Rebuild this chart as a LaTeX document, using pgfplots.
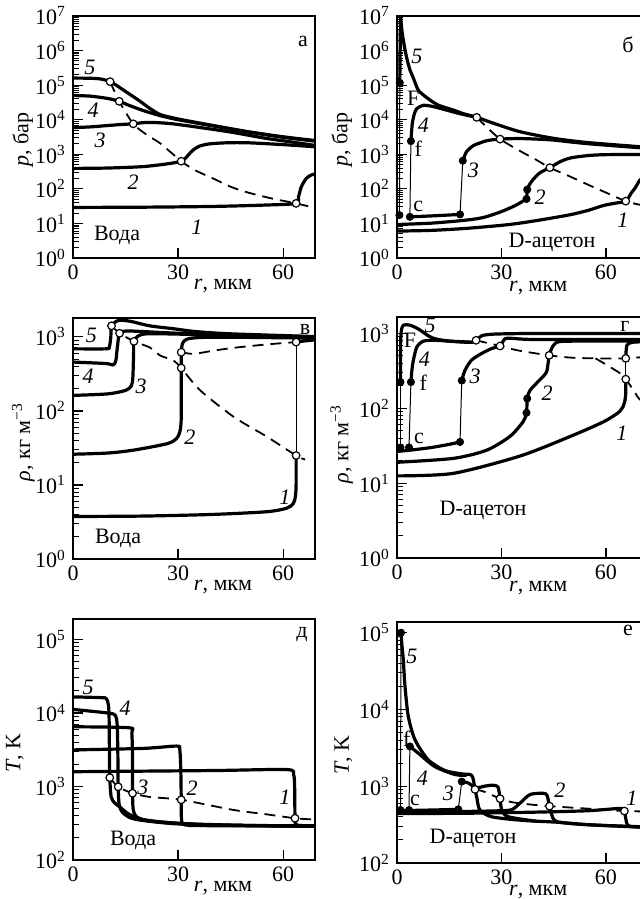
\documentclass[border=0pt]{standalone}
\usepackage{fontspec}
\setmainfont{Liberation Serif}
\usepackage{pgfplots}
\pgfplotsset{compat=1.18}
\newcommand\lf{\fontsize{11}{13}\selectfont}
\newcommand\lab[3]{\node[font=\lf,inner sep=0pt] at (axis description cs:#1,#2) {#3};}
\pgfplotsset{
 mypanel/.style={
  scale only axis, xmin=0,
  axis line style={line width=0.7pt, black},
  xtick={0,30,60}, xticklabels={0,30,60},
  tick pos=left, tick align=inside,
  major tick length=5pt, minor tick length=3.2pt,
  tick style={line width=0.6pt, black},
  minor tick style={line width=0.5pt},
  tick label style={font=\lf},
  label style={font=\lf},
  xlabel={\textit{r}, мкм},
 },
 xlpos/.style 2 args={xlabel style={at={(axis description cs:#1,#2)}, anchor=center}},
 ylpos/.style 2 args={ylabel style={at={(axis description cs:#1,#2)}, anchor=center}},
 decA/.style={ytick={1,10,100,1000,10000,100000,1000000,10000000},
  yticklabels={10\textsuperscript{0},10\textsuperscript{1},10\textsuperscript{2},10\textsuperscript{3},10\textsuperscript{4},10\textsuperscript{5},10\textsuperscript{6},10\textsuperscript{7}},
  minor ytick={2,3,4,5,6,7,8,9,20,30,40,50,60,70,80,90,200,300,400,500,600,700,800,900,2000,3000,4000,5000,6000,7000,8000,9000,20000,30000,40000,50000,60000,70000,80000,90000,200000,300000,400000,500000,600000,700000,800000,900000,2000000,3000000,4000000,5000000,6000000,7000000,8000000,9000000}},
 decB/.style={ytick={1,10,100,1000},
  yticklabels={10\textsuperscript{0},10\textsuperscript{1},10\textsuperscript{2},10\textsuperscript{3}},
  minor ytick={2,3,4,5,6,7,8,9,20,30,40,50,60,70,80,90,200,300,400,500,600,700,800,900}},
 decC/.style={ytick={100,1000,10000,100000},
  yticklabels={10\textsuperscript{2},10\textsuperscript{3},10\textsuperscript{4},10\textsuperscript{5}},
  minor ytick={200,300,400,500,600,700,800,900,2000,3000,4000,5000,6000,7000,8000,9000,20000,30000,40000,50000,60000,70000,80000,90000}},
 thk/.style={black, line width=1.6pt, line join=round, smooth, tension=0.45, mark=none},
 thn/.style={black, line width=0.5pt, mark=none},
 dsh/.style={black, line width=0.9pt, dash pattern=on 5.5pt off 3.5pt, smooth, tension=0.45, mark=none},
 opc/.style={only marks, mark=*, mark size=1.9pt, mark options={fill=white, draw=black, line width=0.6pt, solid}},
 fdc/.style={only marks, mark=*, mark size=1.8pt, mark options={fill=black, draw=black, solid}},
}
\begin{document}
\begin{tikzpicture}
\useasboundingbox (0,0) rectangle (319.5pt,449.5pt);

% ---------------- panel a
\begin{axis}[ymode=log, mypanel, decA, at={(36.5pt,320.5pt)}, anchor=south west,
  width=121pt, height=121pt, xmax=69.1, ymin=1, ymax=1e7,
  ylabel={\textit{p}, бар}, ylpos={-0.207}{0.488}, xlpos={0.62}{-0.117}]
\addplot[dsh] coordinates {(10.6,1.26e5)(13.2,3.4e4)(17.2,7600)(21,3700)(25.1,2000)(30.9,630)(35,340)(40,200)(45,115)(50,78)(57,52)(63.7,38)(69.1,28)};
\addplot[thk] coordinates {(0,1.6e5)(5,1.58e5)(8,1.5e5)(10.6,1.26e5)(13,9e4)(16,5.6e4)(19,3.5e4)(22,2.1e4)(25,1.4e4)(30,1.05e4)(40,6800)(50,4500)(60,3200)(69.1,2500)};
\addplot[thk] coordinates {(0,5e4)(5,4.8e4)(10,4.1e4)(13.2,3.4e4)(16,2.6e4)(20,1.85e4)(25,1.3e4)(30,1e4)(40,6600)(50,4400)(60,3100)(69.1,2400)};
\addplot[thk] coordinates {(0,5900)(5,6200)(10,6800)(14,7300)(17.2,7600)(20,8200)(23,8300)(28,7700)(35,6200)(45,4400)(55,2900)(62,2300)(69.1,1800)};
\addplot[thk] coordinates {(0,390)(10,400)(20,440)(27,530)(30.9,630)(32.5,850)(34,1250)(36,1700)(39,2000)(44,2150)(50,2150)(60,1900)(69.1,1650)};
\addplot[thk] coordinates {(0,29)(20,29.5)(40,31)(55,34)(63.7,38)(64.4,59)(65.2,115)(66.6,200)(68,250)(69.1,270)};
\addplot[opc] coordinates {(10.6,1.26e5)(13.2,3.4e4)(17.2,7600)(30.9,630)(63.7,38)};
\lab{0.070}{0.789}{\textit{5}}
\lab{0.083}{0.612}{\textit{4}}
\lab{0.112}{0.488}{\textit{3}}
\lab{0.248}{0.314}{\textit{2}}
\lab{0.512}{0.128}{\textit{1}}
\lab{0.182}{0.095}{Вода}
\lab{0.950}{0.893}{а}
\end{axis}

% ---------------- panel b
\begin{axis}[ymode=log, mypanel, decA, at={(198.5pt,320.5pt)}, anchor=south west,
  width=125pt, height=121pt, xmax=71.8, ymin=1, ymax=1e7,
  ylabel={\textit{p}, бар}, ylpos={-0.221}{0.488}, xlpos={0.565}{-0.125}]
\addplot[dsh] coordinates {(22.9,1.17e4)(26,5800)(29.6,2750)(35,1300)(40,690)(43.9,410)(50,220)(55,130)(60,78)(65.7,44)(69.5,35)(71.8,32)};
\addplot[thn] coordinates {(0.7,17.4)(0.8,1.17e5)};
\addplot[thk] coordinates {(0.8,1.17e5)(0.9,1e6)(1.0,1e7)};
\addplot[thk] coordinates {(1.0,1e7)(1.5,3.2e6)(2.3,1.05e6)(3.0,5e5)(3.7,2.8e5)(4.7,1.6e5)(6.1,7.2e4)(8,4.8e4)(9.5,3.7e4)(12,2.6e4)(16.2,1.9e4)(19,1.5e4)(22.9,1.17e4)(27.7,7900)(35.3,4500)(44.9,2900)(54.4,2200)(69.5,1660)(71.8,1600)};
\addplot[thn] coordinates {(3.7,15.5)(4.0,2400)};
\addplot[thk] coordinates {(4.0,2400)(4.4,7900)(5.0,1.5e4)(5.7,2.1e4)(7.5,2.6e4)(10,2.45e4)(13.8,1.95e4)(18,1.5e4)(22.9,1.17e4)};
\addplot[thk] coordinates {(3.7,15.5)(10,16.5)(18.1,18.2)};
\addplot[thn] coordinates {(18.1,18.2)(18.9,650)};
\addplot[thk] coordinates {(18.9,650)(20,1200)(22,1800)(23.9,2140)(26,2500)(29.6,2750)(35,2850)(40,2750)(45,2570)(54.4,2040)(69.5,1550)(71.8,1500)};
\addplot[thk] coordinates {(0,9.3)(10,10.2)(20,12.5)(25,15)(30,22)(34,33)(36.3,45)(37.2,51)(37.4,95)(38.2,140)(39.1,186)(41,290)(43.9,410)(47,620)(50,790)(55,920)(60,975)(71.8,990)};
\addplot[thk] coordinates {(0,6)(10,6.3)(20,7.2)(30,8.8)(35.3,10.2)(42,13)(49.7,17.8)(55,24)(59.3,33)(63,39)(65.7,44)(67.3,76)(68.5,110)(69.5,165)(71,240)(71.8,280)};
\addplot[opc] coordinates {(22.9,1.17e4)(29.6,2750)(43.9,410)(65.7,44)};
\addplot[fdc] coordinates {(0.7,17.4)(0.8,1.17e5)(3.7,15.5)(4.0,2400)(18.1,18.2)(18.9,650)(37.2,51)(37.4,95)};
\lab{0.079}{0.832}{\textit{5}}
\lab{0.065}{0.660}{F}
\lab{0.105}{0.550}{\textit{4}}
\lab{0.085}{0.453}{f}
\lab{0.085}{0.212}{c}
\lab{0.305}{0.364}{\textit{3}}
\lab{0.572}{0.252}{\textit{2}}
\lab{0.904}{0.157}{\textit{1}}
\lab{0.620}{0.066}{D-ацетон}
\lab{0.924}{0.880}{б}
\end{axis}

% ---------------- panel v
\begin{axis}[ymode=log, mypanel, decB, at={(36.5pt,170pt)}, anchor=south west,
  width=121pt, height=120.5pt, xmax=69.1, ymin=1, ymax=1800,
  ylabel={\textit{ρ}, кг м\textsuperscript{−3}}, ylpos={-0.205}{0.485}, xlpos={0.62}{-0.117}]
\addplot[dsh] coordinates {(11,1410)(13.3,1120)(17.4,870)(21.9,720)(24.9,560)(28.7,480)(30.9,380)(36.3,190)(45.9,83)(55.3,45)(63.7,25)(66.3,22)};
\addplot[dsh] coordinates {(30.9,620)(34.4,590)(40,650)(45.7,710)(55.2,790)(63.7,850)};
\addplot[thk] coordinates {(0,3.75)(20,3.8)(40,4.0)(55.3,4.35)(61,4.85)(62.9,5.6)(63.5,7)(63.7,10)(63.7,25)};
\addplot[thn] coordinates {(63.7,25)(63.7,850)};
\addplot[thk] coordinates {(63.7,850)(66,880)(69.1,910)};
\addplot[thk] coordinates {(0,26)(10,27)(17.2,29.5)(26.8,36)(29.5,42)(30.5,52)(30.9,80)(30.9,380)(30.9,620)(31.3,820)(32.5,930)(36,980)(45,990)(69.1,960)};
\addplot[thk] coordinates {(0,162)(10,170)(15.1,190)(16.7,220)(17.1,290)(17.3,600)(17.4,870)(18.5,1020)(21,1100)(30,1090)(45,1040)(69.1,980)};
\addplot[thk] coordinates {(0,457)(9.5,436)(11.4,417)(12.2,470)(12.7,750)(13.3,1120)(15.2,1200)(20,1180)(30,1120)(50,1050)(69.1,1000)};
\addplot[thk] coordinates {(0,690)(9.5,690)(10.4,740)(10.8,1000)(11,1410)(12.9,1660)(16.2,1630)(21.9,1410)(28.6,1290)(35,1180)(45,1100)(69.1,1010)};
\addplot[opc] coordinates {(11,1410)(13.3,1120)(17.4,870)(30.9,620)(30.9,380)(63.7,850)(63.7,25)};
\lab{0.076}{0.929}{\textit{5}}
\lab{0.062}{0.757}{\textit{4}}
\lab{0.282}{0.715}{\textit{3}}
\lab{0.483}{0.506}{\textit{2}}
\lab{0.876}{0.257}{\textit{1}}
\lab{0.186}{0.087}{Вода}
\lab{0.959}{0.954}{в}
\end{axis}

% ---------------- panel g
\begin{axis}[ymode=log, mypanel, decB, at={(198.5pt,170.5pt)}, anchor=south west,
  width=125pt, height=120.5pt, xmax=71.8, ymin=1, ymax=1660,
  ylabel={\textit{ρ}, кг м\textsuperscript{−3}}, ylpos={-0.221}{0.473}, xlpos={0.565}{-0.125}]
\addplot[dsh] coordinates {(22.7,810)(29.6,680)(35,590)(43.7,510)(50,475)(57,465)(65.7,465)(71.8,490)};
\addplot[dsh] coordinates {(57,465)(60.2,380)(64,295)(65.7,245)(67.9,175)(69.5,135)(71.8,110)};
\addplot[thk] coordinates {(0,26.5)(5,28)(10,30)(15,33)(18.1,35.5)};
\addplot[thn] coordinates {(1.0,30)(1.0,224)};
\addplot[thk] coordinates {(1.0,224)(1.0,600)(1.2,1050)(1.8,1290)(3.7,1290)(6.1,1150)(9.0,930)(10.9,850)(15,790)(21.4,760)(22.7,810)(24.3,930)(27.9,980)(40,1000)(71.8,1000)};
\addplot[thn] coordinates {(3.45,30)(4.0,224)};
\addplot[thk] coordinates {(4.0,224)(4.3,330)(4.7,440)(5.7,660)(7.6,790)(10.9,810)(15,790)(21.4,765)};
\addplot[thn] coordinates {(18.1,35.5)(18.6,235)};
\addplot[thk] coordinates {(18.6,235)(19.5,320)(21.4,440)(24.3,540)(27.2,630)(29.6,680)(31,850)(33,860)(40,830)(71.8,830)};
\addplot[thk] coordinates {(0,19)(16.1,21.4)(25.7,27.5)(32.4,42)(36.2,66)(37.2,87)(37.4,135)(38.2,174)(41,240)(43,310)(43.7,510)(44.9,690)(46.8,780)(55,790)(71.8,790)};
\addplot[thk] coordinates {(0,12.5)(16.1,13.5)(35.3,23)(49.7,42)(59.3,66)(64.0,91)(65.3,118)(65.7,160)(65.7,245)};
\addplot[thn] coordinates {(65.7,245)(65.7,465)};
\addplot[thk] coordinates {(65.7,465)(66,690)(67.5,760)(71.8,780)};
\addplot[opc] coordinates {(22.7,810)(29.6,680)(43.7,510)(65.7,465)(65.7,245)};
\addplot[fdc] coordinates {(1.0,30)(1.0,224)(3.45,30)(4.0,224)(18.1,35.5)(18.6,235)(37.2,87)(37.4,135)};
\lab{0.132}{0.967}{\textit{5}}
\lab{0.052}{0.902}{F}
\lab{0.109}{0.824}{\textit{4}}
\lab{0.105}{0.727}{f}
\lab{0.088}{0.497}{c}
\lab{0.312}{0.752}{\textit{3}}
\lab{0.600}{0.685}{\textit{2}}
\lab{0.900}{0.519}{\textit{1}}
\lab{0.344}{0.199}{D-ацетон}
\lab{0.912}{0.959}{г}
\end{axis}

% ---------------- panel d
\begin{axis}[ymode=log, mypanel, decC, at={(36.5pt,19.5pt)}, anchor=south west,
  width=121pt, height=120.5pt, xmax=69.1, ymin=100, ymax=190500,
  ylabel={\textit{T}, K}, ylpos={-0.24}{0.444}, xlpos={0.62}{-0.117}]
\addplot[dsh] coordinates {(10.5,1320)(12.9,990)(17,810)(22,720)(30.9,660)(45.8,480)(55,420)(63.4,370)(69.1,355)};
\addplot[thk] coordinates {(0,16600)(8,16200)(9.5,15800)(10.1,13000)(10.3,9000)(10.4,3000)(10.5,1320)(10.9,720)(11.9,600)(13.5,520)(16,420)(20,355)(30,315)(50,295)(69.1,290)};
\addplot[thk] coordinates {(0,11200)(10,10000)(12.1,9300)(12.6,7000)(12.8,3000)(12.9,990)(13.2,560)(14.2,440)(16.7,370)(21,340)(30,310)(50,293)(69.1,290)};
\addplot[thk] coordinates {(0,6500)(16,6300)(16.8,5300)(17,2000)(17,810)(17.2,480)(18.1,390)(21,345)(28.6,320)(40,300)(69.1,290)};
\addplot[thk] coordinates {(0,3150)(20,3300)(29.6,3550)(30.5,3150)(30.8,1500)(30.9,660)(31,355)(32,300)(40,293)(69.1,290)};
\addplot[thk] coordinates {(0,1590)(40,1650)(61,1700)(63,1450)(63.3,900)(63.4,370)(63.9,300)(69.1,290)};
\addplot[opc] coordinates {(10.5,1320)(12.9,990)(17,810)(30.9,660)(63.4,370)};
\lab{0.062}{0.718}{\textit{5}}
\lab{0.215}{0.631}{\textit{4}}
\lab{0.289}{0.303}{\textit{3}}
\lab{0.492}{0.299}{\textit{2}}
\lab{0.876}{0.261}{\textit{1}}
\lab{0.248}{0.083}{Вода}
\lab{0.946}{0.934}{д}
\end{axis}

% ---------------- panel e
\begin{axis}[ymode=log, mypanel, decC, at={(198.5pt,18pt)}, anchor=south west,
  width=125pt, height=120.5pt, xmax=71.8, ymin=100, ymax=138000,
  ylabel={\textit{T}, K}, ylpos={-0.215}{0.448}, xlpos={0.565}{-0.122}]
\addplot[dsh] coordinates {(22.4,910)(25,850)(29.6,690)(33,620)(38,580)(43.8,550)(55,510)(65.3,475)(71.8,470)};
\addplot[thn] coordinates {(1.0,490)(1.15,1e5)};
\addplot[thk] coordinates {(1.15,1e5)(1.4,7e4)(1.8,4.5e4)(2.3,2e4)(3.25,8100)(5.2,4000)(9.0,2200)(13.8,1600)(18.6,1450)(21.5,1380)(22.4,910)(22.9,720)(23.8,490)(27.2,400)(35.8,360)(45.9,340)(55,315)(68.8,295)(71.8,293)};
\addplot[thn] coordinates {(3.45,490)(3.7,3300)};
\addplot[thk] coordinates {(3.7,3300)(6.1,2700)(10.9,1800)(16.7,1420)(20,1390)};
\addplot[thk] coordinates {(0,480)(10,490)(17.6,500)};
\addplot[thn] coordinates {(17.6,500)(18.6,1150)};
\addplot[thk] coordinates {(18.6,1150)(20.5,1100)(22,990)(23.5,960)(25,1000)(27.5,1030)(29,980)(29.6,690)(30.1,490)(32,400)(40,350)};
\addplot[thk] coordinates {(0,465)(20,470)(30,480)(33,495)(35.3,600)(38.2,780)(42,810)(43.1,760)(43.8,550)(44.4,430)(46,345)(55,315)(71.8,295)};
\addplot[thk] coordinates {(0,440)(20,445)(40,460)(55,480)(64,515)(64.8,495)(65.3,475)(66,330)(67,300)(71.8,292)};
\addplot[opc] coordinates {(22.4,910)(29.6,690)(43.8,550)(65.3,475)};
\addplot[fdc] coordinates {(1.15,1e5)(1.0,490)(3.45,490)(3.7,3300)(17.6,500)(18.6,1150)};
\lab{0.059}{0.856}{\textit{5}}
\lab{0.039}{0.517}{f}
\lab{0.101}{0.352}{\textit{4}}
\lab{0.072}{0.258}{c}
\lab{0.205}{0.289}{\textit{3}}
\lab{0.652}{0.303}{\textit{2}}
\lab{0.940}{0.270}{\textit{1}}
\lab{0.304}{0.104}{D-ацетон}
\lab{0.924}{0.967}{е}
\end{axis}
\end{tikzpicture}
\end{document}
